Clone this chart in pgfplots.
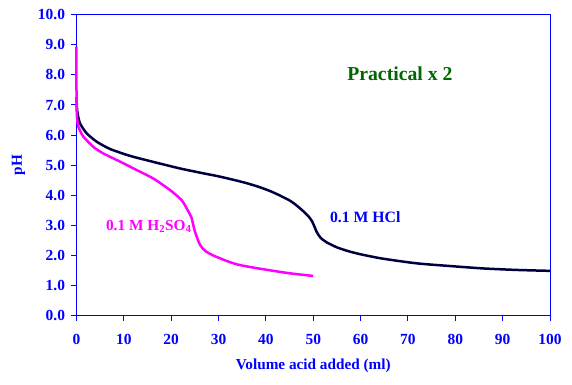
\documentclass[border=0pt]{standalone}
\usepackage{fontspec}
\setmainfont{Liberation Serif}
\usepackage{pgfplots}
\pgfplotsset{compat=1.18}
\definecolor{axblue}{HTML}{0000FF}
\definecolor{navy}{HTML}{000040}
\definecolor{mag}{HTML}{FF00FF}
\definecolor{dgreen}{HTML}{006600}
\begin{document}
\begin{tikzpicture}
\useasboundingbox (-76.5bp,-69.3bp) rectangle (495.5bp,315.7bp);
\begin{axis}[
  scale only axis,
  width=473.5bp, height=301bp,
  xmin=0, xmax=100, ymin=0, ymax=10,
  xtick={0,10,...,100}, ytick={0,1,...,10},
  xtick pos=bottom, ytick pos=left,
  axis line style={axblue, line width=1bp},
  tick style={axblue, line width=1bp},
  tick align=outside, major tick length=5bp,
  /pgf/number format/assume math mode=true,
  xticklabel style={font=\bfseries\fontsize{15.5}{16}\selectfont, text=axblue, yshift=-10bp},
  yticklabel style={font=\bfseries\fontsize{15.5}{16}\selectfont, text=axblue, xshift=-3bp},
  yticklabel={\pgfmathprintnumber[fixed,fixed zerofill,precision=1]{\tick}},
  xlabel={Volume acid added (ml)},
  ylabel={pH},
  xlabel style={font=\bfseries\fontsize{15.3}{16}\selectfont, text=axblue, yshift=-7bp},
  ylabel style={font=\bfseries\fontsize{15.3}{16}\selectfont, text=axblue, yshift=6bp},
  clip=false,
]
\addplot[navy, line width=2.5bp, smooth, tension=0.4] coordinates {
(0,7.26)(0.17,6.78)(0.74,6.39)(2.15,6.06)(4.27,5.78)(7.07,5.54)(11.3,5.31)
(16.2,5.11)(21.9,4.89)(26.8,4.73)(30,4.63)(33.8,4.49)(36,4.40)(38.5,4.28)(40.9,4.14)
(43,3.99)(45.1,3.82)(46.5,3.66)(47.9,3.47)(49,3.30)(49.7,3.15)(50.2,2.98)(50.8,2.76)
(51.6,2.58)(52.8,2.44)(55,2.27)(57.5,2.14)(60,2.04)(64.5,1.90)(71.8,1.74)(78.9,1.65)
(85.9,1.57)(93,1.52)(100,1.49)};
\addplot[mag, line width=2.5bp, smooth, tension=0.4] coordinates {
(0,8.94)(0,7.5)(0.02,7.0)(0.1,6.6)(0.39,6.28)(1.44,5.95)(3.55,5.61)(5.66,5.39)
(9.19,5.12)(12.7,4.84)(16.2,4.56)(19.7,4.18)(22.2,3.84)(23.5,3.5)(24.3,3.25)
(25,2.8)(26.1,2.35)(27.2,2.15)(28.9,2.0)(31.7,1.82)(34,1.70)(37.3,1.60)
(41.6,1.49)(45,1.41)(50,1.32)};
\node[font=\bfseries\fontsize{19.8}{21}\selectfont, text=dgreen] at (axis cs:68.3,8.03) {Practical x 2};
\node[font=\bfseries\fontsize{15.8}{16}\selectfont, text=axblue, anchor=west, inner sep=0pt] at (axis cs:53.5,3.26) {0.1 M HCl};
\node[font=\bfseries\fontsize{15.4}{16}\selectfont, text=mag, anchor=west, inner sep=0pt] at (axis cs:6.2,2.98) {0.1 M H\textsubscript{2}SO\textsubscript{4}};
\end{axis}
\end{tikzpicture}
\end{document}
